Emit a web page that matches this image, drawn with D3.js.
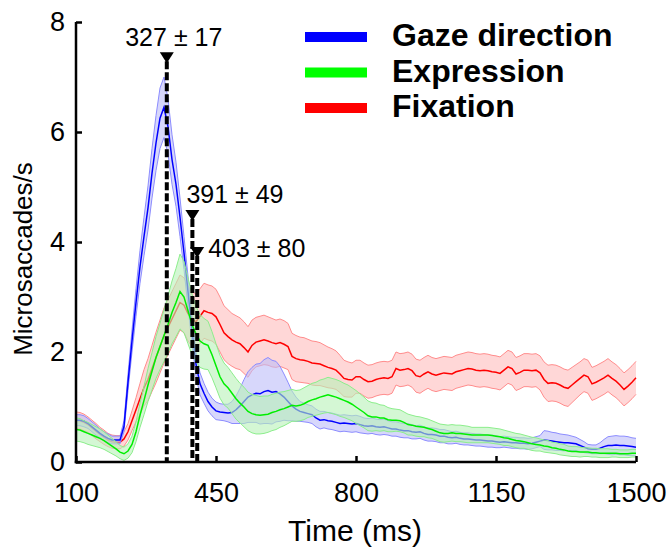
<!DOCTYPE html>
<html><head><meta charset="utf-8">
<script src="https://cdn.jsdelivr.net/npm/d3@7"></script>
<style>body{margin:0;background:#fff}svg{display:block}text{font-family:"Liberation Sans",Arial,sans-serif}</style>
</head><body><svg id="c" width="668" height="548"></svg>
<script>
const timeStart = 100, timeStep = 10;
const seriesNames = ["Gaze direction", "Expression", "Fixation"];
const gazeMean = [
0.76,0.76,0.74,0.70,0.64,0.58,0.52,0.47,0.43,0.40,
0.40,0.40,0.65,1.45,2.20,2.90,3.55,4.10,4.62,5.25,
5.80,6.25,6.45,6.10,5.50,5.05,4.45,3.80,3.10,2.40,
1.78,1.42,1.25,1.10,1.00,0.93,0.91,0.90,0.89,0.90,
0.95,1.02,1.10,1.18,1.22,1.25,1.24,1.28,1.30,1.27,
1.28,1.24,1.18,1.10,1.02,0.96,0.92,0.90,0.88,0.86,
0.80,0.76,0.77,0.75,0.74,0.72,0.70,0.71,0.70,0.69,
0.70,0.68,0.66,0.65,0.66,0.64,0.63,0.64,0.62,0.60,
0.60,0.58,0.57,0.57,0.55,0.54,0.55,0.52,0.50,0.50,
0.49,0.47,0.47,0.45,0.44,0.45,0.43,0.42,0.42,0.41,
0.40,0.40,0.39,0.38,0.38,0.37,0.36,0.37,0.36,0.35,
0.35,0.34,0.34,0.33,0.34,0.36,0.38,0.40,0.39,0.38,
0.37,0.36,0.35,0.35,0.34,0.33,0.30,0.27,0.24,0.23,
0.23,0.25,0.28,0.30,0.30,0.31,0.30,0.30,0.29,0.28,
0.27];
const gazeSem = [
0.10,0.10,0.10,0.09,0.09,0.09,0.08,0.08,0.08,0.07,
0.07,0.07,0.10,0.15,0.20,0.25,0.30,0.35,0.40,0.45,
0.50,0.55,0.55,0.50,0.45,0.40,0.35,0.30,0.28,0.25,
0.22,0.20,0.18,0.17,0.16,0.16,0.15,0.15,0.16,0.20,
0.25,0.32,0.40,0.46,0.50,0.53,0.55,0.58,0.60,0.58,
0.55,0.50,0.42,0.35,0.27,0.22,0.18,0.17,0.16,0.16,
0.16,0.16,0.15,0.15,0.15,0.15,0.15,0.15,0.15,0.15,
0.15,0.15,0.14,0.14,0.14,0.14,0.14,0.14,0.13,0.13,
0.13,0.13,0.13,0.13,0.13,0.12,0.12,0.12,0.12,0.12,
0.12,0.12,0.12,0.12,0.11,0.11,0.11,0.11,0.11,0.11,
0.11,0.11,0.11,0.11,0.11,0.11,0.10,0.10,0.10,0.10,
0.10,0.10,0.10,0.10,0.10,0.10,0.10,0.17,0.17,0.16,
0.16,0.15,0.15,0.14,0.13,0.12,0.11,0.10,0.08,0.08,
0.08,0.10,0.13,0.16,0.17,0.17,0.17,0.17,0.17,0.16,
0.16];
const exprMean = [
0.59,0.58,0.55,0.52,0.49,0.46,0.43,0.39,0.34,0.29,
0.24,0.18,0.15,0.20,0.32,0.55,0.85,1.12,1.40,1.65,
1.90,2.10,2.30,2.50,2.72,2.90,3.10,3.00,2.75,2.50,
2.33,2.20,2.15,2.12,1.95,1.75,1.55,1.42,1.35,1.25,
1.15,1.07,1.00,0.92,0.88,0.86,0.85,0.86,0.87,0.90,
0.92,0.95,0.97,1.00,1.03,1.02,1.03,1.06,1.10,1.13,
1.15,1.18,1.20,1.22,1.20,1.18,1.15,1.12,1.09,1.05,
1.00,0.95,0.90,0.84,0.82,0.82,0.80,0.80,0.77,0.76,
0.76,0.75,0.72,0.68,0.67,0.65,0.64,0.63,0.61,0.59,
0.56,0.53,0.52,0.52,0.53,0.52,0.52,0.51,0.50,0.49,
0.49,0.49,0.49,0.49,0.48,0.47,0.46,0.44,0.43,0.41,
0.39,0.38,0.37,0.35,0.33,0.32,0.31,0.29,0.28,0.26,
0.25,0.23,0.22,0.20,0.19,0.19,0.18,0.18,0.18,0.17,
0.17,0.16,0.16,0.16,0.16,0.16,0.15,0.15,0.15,0.16,
0.16];
const exprSem = [
0.21,0.21,0.20,0.20,0.19,0.18,0.17,0.16,0.15,0.14,
0.13,0.12,0.12,0.13,0.15,0.18,0.22,0.26,0.30,0.34,
0.38,0.42,0.47,0.52,0.57,0.62,0.68,0.65,0.60,0.55,
0.50,0.48,0.46,0.44,0.42,0.40,0.39,0.38,0.37,0.37,
0.37,0.36,0.36,0.35,0.35,0.35,0.34,0.34,0.33,0.33,
0.33,0.32,0.31,0.30,0.29,0.28,0.28,0.29,0.29,0.30,
0.30,0.31,0.31,0.32,0.32,0.32,0.32,0.31,0.31,0.30,
0.30,0.29,0.28,0.27,0.26,0.25,0.24,0.23,0.22,0.21,
0.20,0.20,0.19,0.19,0.18,0.18,0.18,0.17,0.17,0.16,
0.16,0.16,0.16,0.15,0.15,0.15,0.15,0.15,0.15,0.14,
0.14,0.14,0.14,0.14,0.14,0.14,0.14,0.14,0.13,0.13,
0.13,0.13,0.12,0.12,0.12,0.12,0.11,0.11,0.11,0.10,
0.10,0.10,0.10,0.09,0.09,0.09,0.09,0.08,0.08,0.08,
0.08,0.08,0.08,0.08,0.07,0.07,0.07,0.07,0.07,0.07,
0.07];
const fixMean = [
0.76,0.75,0.72,0.68,0.62,0.56,0.50,0.45,0.40,0.37,
0.36,0.36,0.42,0.55,0.75,0.95,1.15,1.35,1.50,1.70,
1.90,2.10,2.30,2.45,2.60,2.75,2.90,2.85,2.70,2.60,
2.55,2.65,2.75,2.72,2.70,2.64,2.50,2.35,2.28,2.22,
2.18,2.15,2.08,2.00,2.12,2.18,2.20,2.22,2.20,2.17,
2.15,2.17,2.14,2.10,1.92,1.88,1.86,1.85,1.83,1.80,
1.79,1.78,1.75,1.72,1.70,1.67,1.60,1.52,1.50,1.49,
1.55,1.55,1.50,1.46,1.47,1.50,1.52,1.53,1.52,1.55,
1.70,1.67,1.68,1.70,1.66,1.57,1.55,1.60,1.64,1.60,
1.58,1.60,1.62,1.61,1.60,1.64,1.66,1.68,1.70,1.69,
1.67,1.66,1.67,1.66,1.64,1.63,1.61,1.67,1.73,1.70,
1.60,1.63,1.67,1.67,1.66,1.67,1.62,1.50,1.43,1.44,
1.43,1.40,1.36,1.34,1.40,1.46,1.52,1.58,1.55,1.42,
1.45,1.49,1.53,1.58,1.52,1.47,1.40,1.32,1.38,1.45,
1.53];
const fixSem = [
0.15,0.15,0.15,0.14,0.14,0.14,0.13,0.13,0.12,0.12,
0.12,0.12,0.13,0.15,0.18,0.22,0.28,0.33,0.38,0.42,
0.46,0.48,0.50,0.50,0.50,0.50,0.50,0.50,0.50,0.50,
0.50,0.50,0.50,0.50,0.50,0.50,0.50,0.49,0.49,0.48,
0.48,0.47,0.47,0.46,0.46,0.45,0.45,0.45,0.44,0.44,
0.43,0.43,0.43,0.42,0.42,0.42,0.41,0.41,0.40,0.40,
0.40,0.39,0.38,0.37,0.36,0.35,0.34,0.33,0.32,0.31,
0.30,0.30,0.30,0.30,0.30,0.30,0.30,0.30,0.30,0.30,
0.30,0.30,0.30,0.30,0.30,0.30,0.30,0.30,0.30,0.30,
0.30,0.30,0.30,0.30,0.30,0.30,0.30,0.30,0.30,0.30,
0.30,0.30,0.30,0.30,0.30,0.30,0.30,0.30,0.30,0.30,
0.30,0.30,0.30,0.30,0.30,0.30,0.31,0.32,0.33,0.33,
0.33,0.33,0.33,0.33,0.32,0.31,0.30,0.30,0.30,0.30,
0.30,0.30,0.30,0.30,0.30,0.30,0.30,0.30,0.30,0.30,
0.30];
const xTicks = [100, 450, 800, 1150, 1500];
const yTicks = [0, 2, 4, 6, 8];
const peakTimes = [327, 391, 403];
const peakLabels = ["327 \u00b1 17", "391 \u00b1 49", "403 \u00b1 80"];
const peakTops = [7.45, 4.58, 3.91];

const svg = d3.select("#c");
const x = d3.scaleLinear().domain([100, 1500]).range([76, 636]);
const y = d3.scaleLinear().domain([0, 8]).range([462, 22]);

const styles = {
  "Fixation":       {line: "#ff0000", edge: "#ff8c8c", fill: "#ffbcbc", legend: "#ff0000"},
  "Gaze direction": {line: "#0000ff", edge: "#8c8cff", fill: "#bcbcf8", legend: "#0000ff"},
  "Expression":     {line: "#00ee00", edge: "#8cee8c", fill: "#b8f2b8", legend: "#00ff00"}
};
const series = [
  {name: "Fixation", mean: fixMean, sem: fixSem},
  {name: "Gaze direction", mean: gazeMean, sem: gazeSem},
  {name: "Expression", mean: exprMean, sem: exprSem}
];

series.forEach(s => {
  const st = styles[s.name];
  const pts = s.mean.map((m, i) => ({t: timeStart + i * timeStep, m, lo: m - s.sem[i], hi: m + s.sem[i]}));
  const g = svg.append("g");
  g.append("path").datum(pts)
    .attr("d", d3.area().x(d => x(d.t)).y0(d => y(Math.max(0, d.lo))).y1(d => y(d.hi)))
    .attr("fill", st.fill).attr("fill-opacity", 0.6).attr("stroke", "none");
  ["lo", "hi"].forEach(k => {
    g.append("path").datum(pts)
      .attr("d", d3.line().x(d => x(d.t)).y(d => y(Math.max(0, d[k]))))
      .attr("fill", "none").attr("stroke", st.edge).attr("stroke-width", 1);
  });
  g.append("path").datum(pts)
    .attr("d", d3.line().x(d => x(d.t)).y(d => y(d.m)))
    .attr("fill", "none").attr("stroke", st.line).attr("stroke-width", 1.5);
});

// peak markers
const mk = svg.append("g");
peakTimes.forEach((t, i) => {
  const px = x(t), top = y(peakTops[i]);
  mk.append("line").attr("x1", px).attr("x2", px).attr("y1", top + 9).attr("y2", y(0))
    .attr("stroke", "#000").attr("stroke-width", 4).attr("stroke-dasharray", "8,3");
  mk.append("path").attr("d", `M${px-7},${top}L${px+7},${top}L${px},${top+11}Z`).attr("fill", "#000");
});
const labelPos = [
  {dx: 7, dy: -6, anchor: "middle"},
  {dx: -6, dy: -7, anchor: "start"},
  {dx: 11, dy: 10, anchor: "start"}
];
peakTimes.forEach((t, i) => {
  mk.append("text").attr("x", x(t) + labelPos[i].dx).attr("y", y(peakTops[i]) + labelPos[i].dy)
    .attr("text-anchor", labelPos[i].anchor).attr("font-size", 25).attr("fill", "#000")
    .text(peakLabels[i]);
});

// axes
const yAxis = svg.append("g").attr("transform", "translate(76,0)")
  .call(d3.axisLeft(y).tickValues(yTicks).tickSize(-6).tickSizeOuter(0).tickPadding(11).tickFormat(d3.format("d")));
const xAxis = svg.append("g").attr("transform", "translate(0,462)")
  .call(d3.axisBottom(x).tickValues(xTicks).tickSize(-6).tickSizeOuter(0).tickPadding(21).tickFormat(d3.format("d")));
[xAxis, yAxis].forEach(a => {
  a.selectAll("path,line").attr("stroke", "#000").attr("stroke-width", 2.5);
  a.selectAll("text").attr("font-size", 27).attr("fill", "#000").attr("font-family", "Liberation Sans, Arial, sans-serif");
});
xAxis.select(".domain").attr("d", "M74.75,0H636");
yAxis.select(".domain").attr("d", "M0,22V463.25");

svg.append("text").attr("x", 355).attr("y", 541).attr("text-anchor", "middle").attr("font-size", 30).text("Time (ms)");
svg.append("text").attr("transform", "translate(32,259) rotate(-90)").attr("text-anchor", "middle").attr("font-size", 26).text("Microsaccades/s");

// legend
const legendOrder = ["Gaze direction", "Expression", "Fixation"];
const lg = svg.append("g");
legendOrder.forEach((n, i) => {
  const cy = 37 + i * 35.5;
  lg.append("line").attr("x1", 305).attr("x2", 367).attr("y1", cy).attr("y2", cy)
    .attr("stroke", styles[n].legend).attr("stroke-width", 10);
  lg.append("text").attr("x", 392).attr("y", cy + 9).attr("font-size", 32).attr("font-weight", "bold").text(n);
});
</script></body></html>
